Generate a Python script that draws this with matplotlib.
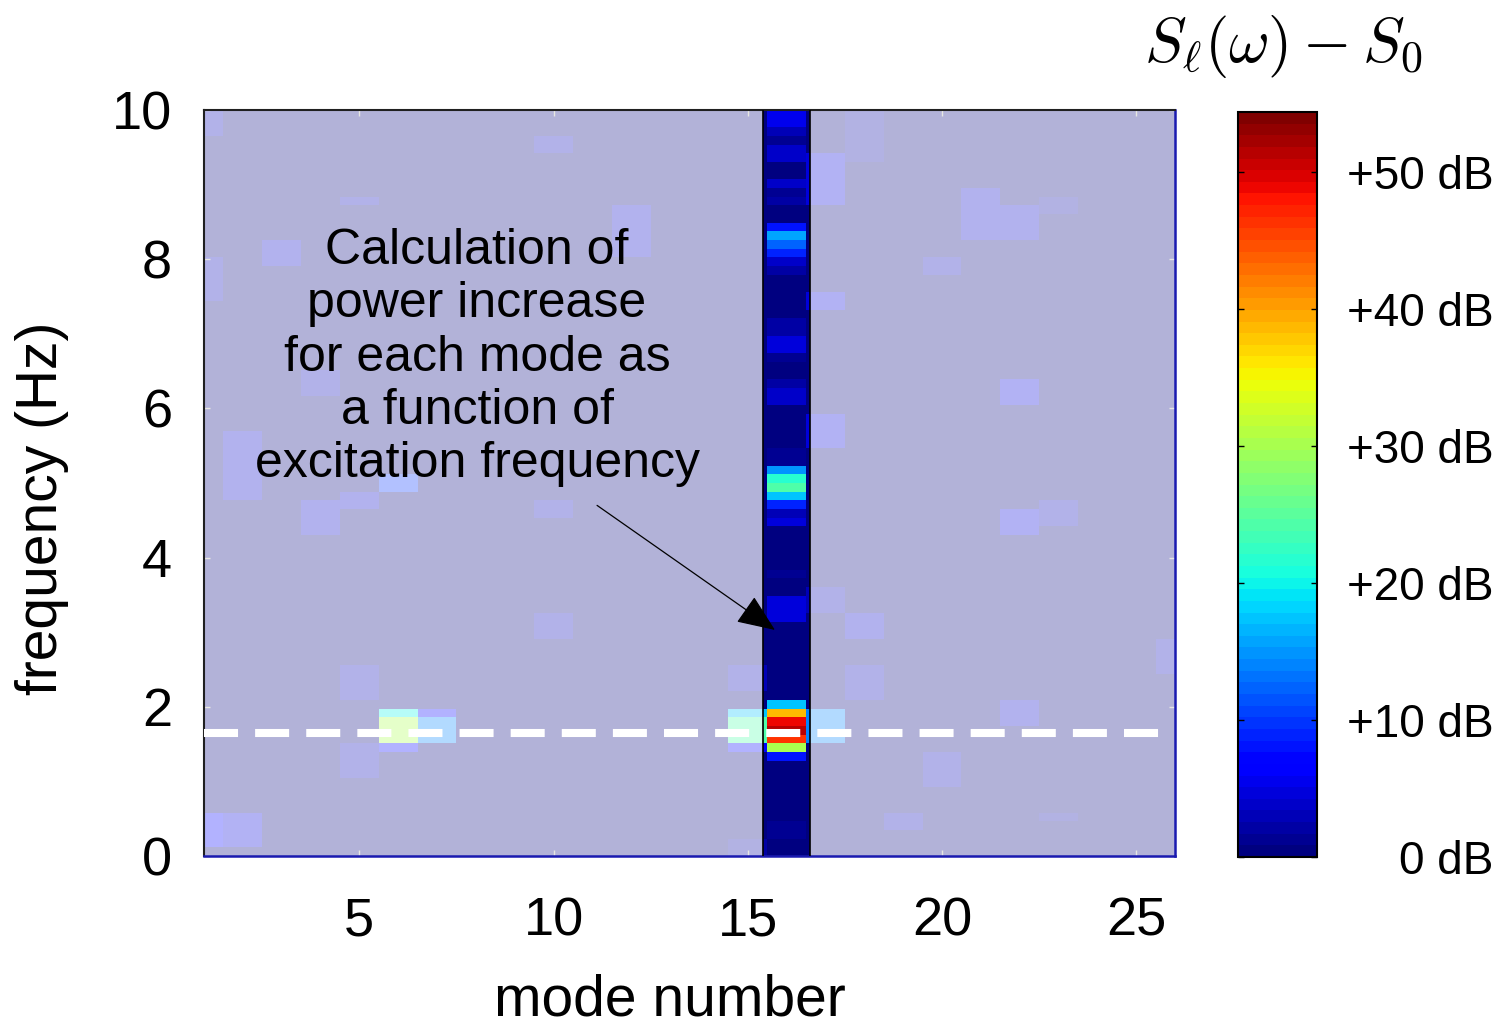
import numpy as np
import matplotlib
matplotlib.use("Agg")
import matplotlib.pyplot as plt

plt.rcParams['font.family'] = ['Liberation Sans', 'DejaVu Sans']
plt.rcParams['mathtext.fontset'] = 'cm'
plt.rcParams['lines.scale_dashes'] = False

# grid: mode numbers 1..26, 86 frequency bins over 0..10 Hz
modes = np.arange(1, 27)
n_freq = 86
f_max = 10.0
base_db = 0.5

# mode 16, power increase per frequency bin (dB), lowest bin first
mode16_db = [
    0.5, 0.5, 1.5, 1.5, 0.5, 0.5, 0.5, 0.5, 0.5, 0.5,      # 0-9
    0.5, 8.4, 30.0, 46.5, 51.5, 49.0, 39.0, 17.6, 0.3, 0.3,  # 10-19
    0.3, 0.3, 0.3, 0.3, 0.3, 0.3, 0.3, 5.0, 5.0, 5.0,      # 20-29
    0.8, 0.8, 1.0, 0.3, 0.3, 0.3, 0.3, 0.3, 4.3, 2.6,      # 30-39
    8.9, 17.6, 24.0, 21.5, 14.8, 1.0, 1.0, 0.3, 0.3, 0.3,  # 40-49
    0.3, 0.3, 3.5, 3.5, 2.3, 0.8, 0.8, 1.0, 4.8, 4.8,      # 50-59
    1.8, 1.8, 0.3, 0.3, 0.3, 0.8, 0.8, 2.0, 3.5, 8.9,      # 60-69
    12.1, 15.3, 8.4, 0.5, 0.5, 2.0, 1.0, 3.5, 0.3, 0.3,    # 70-79
    4.0, 4.0, 1.5, 3.0, 5.5, 5.5,                          # 80-85
]

# weaker responses of the other modes: (mode, f_low, f_high, dB)
other_modes = [
    (6, 1.86, 1.98, 20), (6, 1.51, 1.86, 30), (6, 1.40, 1.51, 6),
    (7, 1.86, 1.98, 6), (7, 1.51, 1.86, 14),
    (15, 1.86, 1.98, 17), (15, 1.51, 1.86, 24), (15, 1.40, 1.51, 6),
    (17, 1.51, 1.98, 14),
    (6, 4.88, 5.12, 10), (5, 4.65, 4.88, 4),
    (1, 0.15, 0.55, 6), (2, 0.15, 0.55, 5), (1, 9.7, 10.0, 3),
    (2, 4.80, 5.70, 4), (3, 7.90, 8.30, 3.5), (5, 8.70, 8.85, 3),
    (10, 9.40, 9.70, 3), (12, 8.00, 8.70, 4), (17, 8.72, 9.42, 5),
    (18, 9.35, 10.0, 2.5), (21, 8.30, 9.00, 4), (22, 8.20, 8.70, 3.5),
    (23, 8.60, 8.80, 2.5), (20, 7.80, 8.00, 3), (1, 7.50, 8.00, 3),
    (4, 6.20, 6.50, 3), (4, 4.30, 4.80, 4), (10, 4.50, 4.80, 3),
    (22, 4.30, 4.65, 4.5), (18, 2.90, 3.20, 4), (17, 3.20, 3.60, 3),
    (10, 2.90, 3.20, 3), (5, 1.10, 1.50, 3), (22, 1.80, 2.10, 4),
    (20, 0.90, 1.35, 3), (15, 0.05, 0.25, 2.5), (18, 2.10, 2.50, 3),
    (17, 7.36, 7.59, 4.5), (17, 5.48, 5.95, 4.5), (22, 6.10, 6.40, 4.5),
    (23, 4.46, 4.72, 3), (26, 2.40, 2.85, 3), (19, 0.30, 0.60, 3),
    (23, 0.45, 0.60, 2.5), (15, 2.20, 2.50, 3), (5, 2.10, 2.50, 3),
]

highlight_mode = 16
excitation_freq = 1.65
cbar_ticks = [0, 10, 20, 30, 40, 50]
cbar_labels = ['0 dB', '+10 dB', '+20 dB', '+30 dB', '+40 dB', '+50 dB']
db_max = 54.4

# build the power map
f_edges = np.linspace(0, f_max, n_freq + 1)
f_mid = 0.5 * (f_edges[:-1] + f_edges[1:])
m_edges = np.append(modes - 0.5, modes[-1] + 0.5)
power = np.full((n_freq, len(modes)), base_db)
for m, lo, hi, db in other_modes:
    power[(f_mid >= lo) & (f_mid <= hi), m - 1] = db
power[:, highlight_mode - 1] = mode16_db

fig = plt.figure(figsize=(14.99, 10.27), dpi=100)
ax = fig.add_axes([204 / 1499, 1 - 856 / 1027, 971 / 1499, 746 / 1027])

cmap = plt.get_cmap('jet', 64)
mesh = ax.pcolormesh(m_edges, f_edges, power, cmap=cmap, vmin=0, vmax=db_max,
                     shading='flat')

# wash out everything except the highlighted mode
lo_hl, hi_hl = highlight_mode - 0.6, highlight_mode + 0.6
ax.axvspan(1, lo_hl, color='white', alpha=0.7, lw=0, zorder=2)
ax.axvspan(hi_hl, 26, color='white', alpha=0.7, lw=0, zorder=2)
for xv in (lo_hl, hi_hl):
    ax.axvline(xv, color='black', lw=1.2, zorder=3)

# excitation frequency
ax.axhline(excitation_freq, color='white', lw=5.8, dashes=[24.5, 12.3],
           zorder=4)

ax.set_xlim(1, 26)
ax.set_ylim(0, f_max)
ax.set_xticks([5, 10, 15, 20, 25])
ax.set_yticks([0, 2, 4, 6, 8, 10])
ax.tick_params(direction='in', length=4, width=1, color='#b0b0a0',
               top=True, right=True, labelsize=39)
ax.tick_params(axis='x', pad=29)
ax.tick_params(axis='y', pad=23)
for side in ('left', 'top'):
    ax.spines[side].set_color('#202020')
    ax.spines[side].set_linewidth(1.5)
for side in ('right', 'bottom'):
    ax.spines[side].set_color('#1a1ab0')
    ax.spines[side].set_linewidth(1.8)

ax.set_xlabel('mode number', fontsize=41)
ax.xaxis.set_label_coords(0.48, -0.158)
ax.set_ylabel('frequency (Hz)', fontsize=41, va='center')
ax.yaxis.set_label_coords(-0.167, 0.466)

ax.text(8.03, 6.68, 'Calculation of\npower increase\nfor each mode as\n'
        'a function of\nexcitation frequency',
        ha='center', va='center', fontsize=36, linespacing=1.2, zorder=5)
ax.annotate('', xy=(15.70, 3.03), xytext=(11.12, 4.70),
            arrowprops=dict(arrowstyle='-|>,head_length=0.6,head_width=0.25',
                            mutation_scale=40, lw=0.9, color='black',
                            shrinkA=0, shrinkB=0),
            zorder=6)

# colour bar
cax = fig.add_axes([1238 / 1499, 1 - 857 / 1027, 79 / 1499, 745 / 1027])
cb = fig.colorbar(mesh, cax=cax, ticks=cbar_ticks)
cb.ax.set_yticklabels(cbar_labels)
cb.outline.set_linewidth(1.5)
cax.tick_params(direction='in', length=4, width=1, left=True, right=True,
                labelsize=33, pad=127)
for lab in cax.get_yticklabels():
    lab.set_ha('right')

fig.text(0.856, 0.955, r'$S_\ell(\omega) - S_0$', ha='center', va='center',
         fontsize=45)

fig.savefig('out.png', dpi=100)
